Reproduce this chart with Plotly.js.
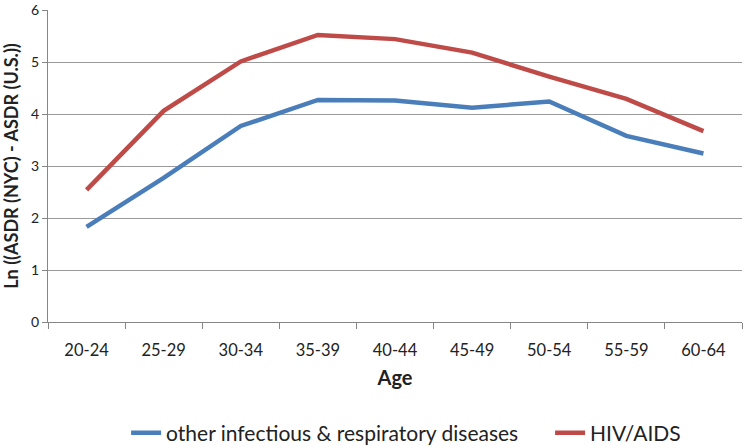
<!DOCTYPE html>
<html>
<head>
<meta charset="utf-8">
<script src="https://cdn.plot.ly/plotly-3.0.1.min.js"></script>
<style>html,body{margin:0;padding:0;background:#fff;}#chart{width:750px;height:448px;}</style>
</head>
<body>
<div id="chart"></div>
<script>
var ageGroups = ["20-24","25-29","30-34","35-39","40-44","45-49","50-54","55-59","60-64"];
var otherInfectious = [1.83, 2.77, 3.77, 4.27, 4.26, 4.12, 4.24, 3.58, 3.24];
var hivAids = [2.54, 4.06, 5.01, 5.52, 5.44, 5.18, 4.72, 4.29, 3.67];
var seriesNames = ["other infectious & respiratory diseases", "HIV/AIDS"];
var yTicks = [0,1,2,3,4,5,6];

var font = "Lato, 'Open Sans', sans-serif";
var gap = "\u00a0\u00a0\u00a0\u00a0\u00a0";
var traces = [
  {x: ageGroups, y: otherInfectious, name: seriesNames[0] + gap, type: "scatter", mode: "lines",
   line: {color: "#4A7EBB", width: 4.5}},
  {x: ageGroups, y: hivAids, name: seriesNames[1], type: "scatter", mode: "lines",
   line: {color: "#BE4B48", width: 4.5}}
];
var layout = {
  width: 750, height: 448,
  margin: {l: 48, r: 8, t: 10, b: 126, autoexpand: false},
  paper_bgcolor: "#fff", plot_bgcolor: "#fff",
  font: {family: font, color: "#222", size: 13},
  showlegend: true,
  legend: {orientation: "h", x: 0.516, xanchor: "center", yref: "container", y: 0.033, yanchor: "middle",
           font: {size: 21, color: "#222"}, itemwidth: 30, tracegroupgap: 0},
  xaxis: {type: "category", range: [-0.5, 8.5], tickson: "boundaries",
          ticks: "outside", ticklen: 6, tickcolor: "#868686",
          showline: true, linecolor: "#868686", linewidth: 1, showgrid: false,
          tickfont: {size: 16.5, color: "#222"}, ticklabelstandoff: 13,
          title: {text: "<b>Age</b>", font: {size: 20, color: "#222"}, standoff: 12},
          fixedrange: true},
  yaxis: {range: [0, 6], tickvals: yTicks, ticks: "outside", ticklen: 5, tickcolor: "#868686",
          showline: true, linecolor: "#868686", linewidth: 1,
          showgrid: true, gridcolor: "#9a9a9a", gridwidth: 1, zeroline: false,
          tickfont: {size: 14, color: "#222"},
          title: {text: "<b>Ln ((ASDR (NYC) - ASDR (U.S.))</b>", font: {size: 18, color: "#222"}, standoff: 8},
          fixedrange: true}
};
Plotly.newPlot("chart", traces, layout, {displayModeBar: false, staticPlot: true});
</script>
</body>
</html>
